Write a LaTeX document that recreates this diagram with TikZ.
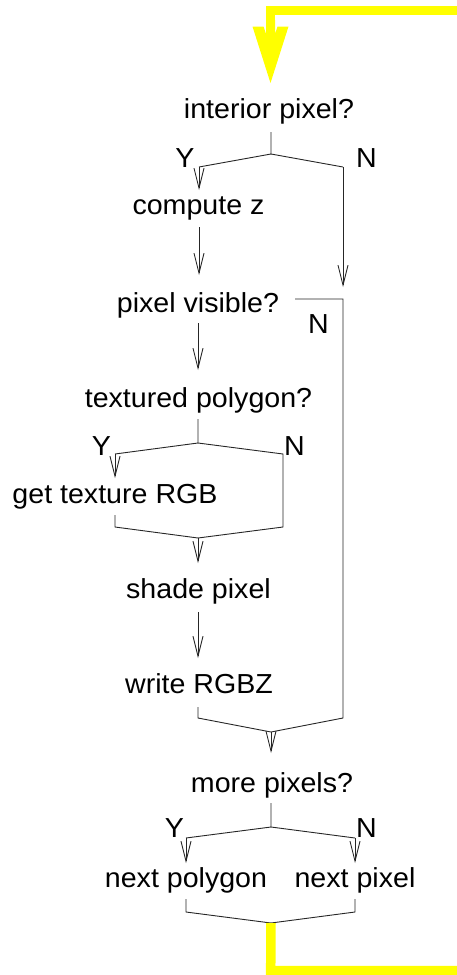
\documentclass[tikz,border=0pt]{standalone}
\usepackage{fontspec}
\setmainfont{Liberation Sans}[FakeStretch=1.04]
\usetikzlibrary{arrows.meta}
\tikzset{
  txt/.style={anchor=base, inner sep=0pt, font=\fontsize{27.5}{33}\selectfont},
  flow/.style={draw=black!85, line width=0.9pt, line join=miter},
  arr/.style={flow, -{Straight Barb[length=20pt,width=10pt]}},
  hi/.style={draw={rgb,255:red,255;green,255;blue,0}, line width=9.5pt, line join=miter},
  hifill/.style={fill={rgb,255:red,255;green,255;blue,0}}
}
\begin{document}
\begin{tikzpicture}[x=1pt, y=-1pt]
\useasboundingbox (0,0) rectangle (457,975);

% step texts
\node[txt] (ip) at (269,118) {interior pixel?};
\node[txt] (cz) at (198.5,214) {compute z};
\node[txt] (pv) at (198,312) {pixel visible?};
\node[txt] (tp) at (198.5,407) {textured polygon?};
\node[txt] (gt) at (115,503) {get texture RGB};
\node[txt] (sp) at (198.5,598) {shade pixel};
\node[txt] (wr) at (199,693) {write RGBZ};
\node[txt] (mp) at (272,792) {more pixels?};
\node[txt] (np) at (186,887) {next polygon};
\node[txt] (nx) at (355,887) {next pixel};

% branch labels
\node[txt] (y1) at (185,167) {Y};
\node[txt] (n1) at (366.5,167) {N};
\node[txt] (n2) at (318.5,333) {N};
\node[txt] (y2) at (101.5,455) {Y};
\node[txt] (n3) at (294.5,455) {N};
\node[txt] (y3) at (174.5,837) {Y};
\node[txt] (n4) at (366.5,837) {N};

% junction points
\coordinate (ipS) at (271,132);
\coordinate (ipJ) at (271,154);
\coordinate (ipL) at (199,167);
\coordinate (ipR) at (343,167);
\coordinate (czT) at (199,190);
\coordinate (czB) at (199,227);
\coordinate (pvT) at (199,275);
\coordinate (skipT) at (343,287);
\coordinate (pvE) at (295,299);
\coordinate (pvC) at (343,299);
\coordinate (pvB) at (198,323);
\coordinate (tpT) at (198,370);
\coordinate (tpS) at (198,419);
\coordinate (tpJ) at (198,443);
\coordinate (tpL) at (115,454);
\coordinate (tpR) at (283,454);
\coordinate (gtT) at (115,478);
\coordinate (gtB) at (115,515);
\coordinate (gtC) at (115,527);
\coordinate (tpRC) at (283,527);
\coordinate (mgA) at (198,538);
\coordinate (spT) at (198,563);
\coordinate (spB) at (198,612);
\coordinate (wrT) at (198,658);
\coordinate (wrB) at (198,707);
\coordinate (wrC) at (198,718);
\coordinate (pvRC) at (343,718);
\coordinate (mgB) at (271,732);
\coordinate (mpT) at (271,753);
\coordinate (mpS) at (271,803);
\coordinate (mpJ) at (271,827);
\coordinate (mpL) at (186,838);
\coordinate (mpR) at (355,838);
\coordinate (npT) at (186,863);
\coordinate (nxT) at (355,863);
\coordinate (npB) at (186,899);
\coordinate (npC) at (186,912);
\coordinate (nxB) at (355,899);
\coordinate (nxC) at (355,912);
\coordinate (mgC) at (271,923);

% interior pixel? split
\draw[flow] (ipS) -- (ipJ) -- (ipL);
\draw[flow] (ipJ) -- (ipR);
\draw[arr] (ipL) -- (czT);
\draw[arr] (ipR) -- (skipT);
\draw[arr] (czB) -- (pvT);

% pixel visible? : N path down the right side
\draw[flow] (pvE) -- (pvC) -- (pvRC) -- (mgB);
\draw[arr] (pvB) -- (tpT);

% textured polygon? split
\draw[flow] (tpS) -- (tpJ) -- (tpL);
\draw[flow] (tpJ) -- (tpR) -- (tpRC) -- (mgA);
\draw[arr] (tpL) -- (gtT);
\draw[flow] (gtB) -- (gtC) -- (mgA);
\draw[arr] (mgA) -- (spT);
\draw[arr] (spB) -- (wrT);
\draw[flow] (wrB) -- (wrC) -- (mgB);
\draw[arr] (mgB) -- (mpT);

% more pixels? split
\draw[flow] (mpS) -- (mpJ) -- (mpL);
\draw[flow] (mpJ) -- (mpR);
\draw[arr] (mpL) -- (npT);
\draw[arr] (mpR) -- (nxT);
\draw[flow] (npB) -- (npC) -- (mgC);
\draw[flow] (nxB) -- (nxC) -- (mgC);

% highlighted loop back
\coordinate (loopIn) at (457,10.5);
\coordinate (loopCorner) at (270.5,10.5);
\coordinate (loopHead) at (270.5,40);
\coordinate (loopOut) at (457,970.5);
\coordinate (loopBot) at (270.7,970.5);
\draw[hi] (loopIn) -- (loopCorner) -- (loopHead);
\fill[hifill] (252.5,26.5) -- (263.5,26.5) -- (266,34) -- (266,20) -- (275,20)
  -- (275,34) -- (277.5,26.5) -- (288.5,26.5) -- (270.5,83) -- cycle;
\draw[hi] (mgC) -- (loopBot) -- (loopOut);
\end{tikzpicture}
\end{document}
